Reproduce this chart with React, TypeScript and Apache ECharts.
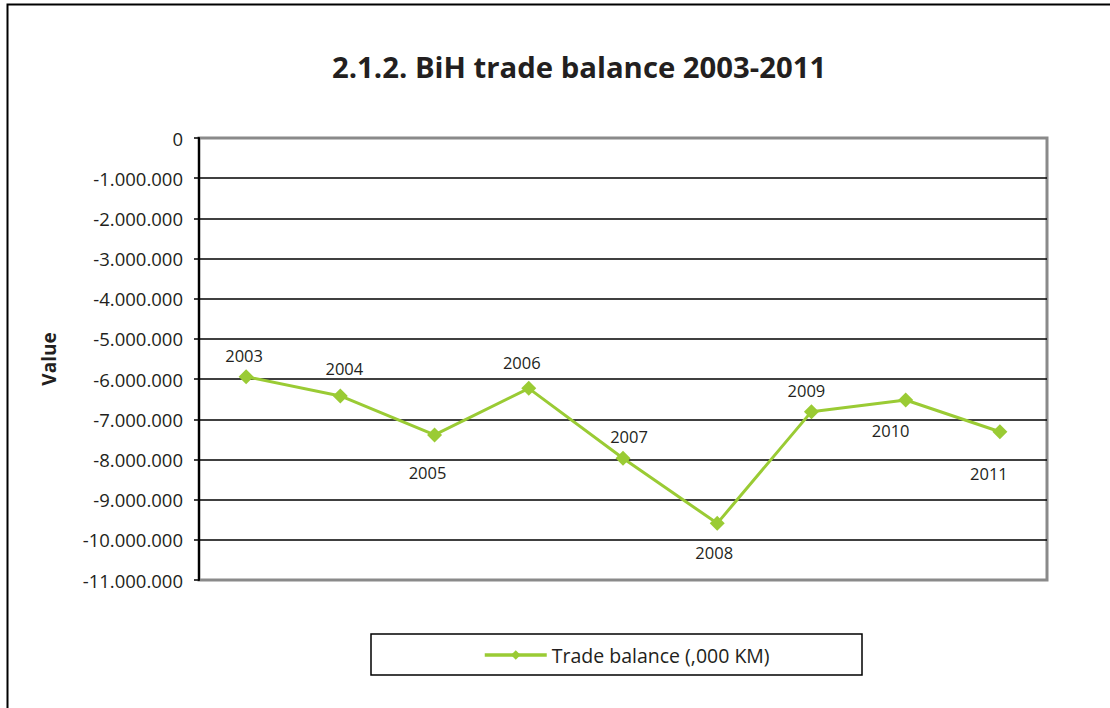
import React, { useEffect, useRef } from "react";
import * as echarts from "echarts";

const years = ["2003", "2004", "2005", "2006", "2007", "2008", "2009", "2010", "2011"];
const tradeBalance = [-5940000, -6420000, -7390000, -6230000, -7970000, -9590000, -6810000, -6520000, -7310000];
const labelOffsets: [number, number][] = [
  [-2, -21], [4, -27], [-7, 38], [-7, -26], [6, -22], [-3, 29], [-5, -21], [-15, 31], [-11, 42],
];
const titleText = "2.1.2. BiH trade balance 2003-2011";
const seriesName = "Trade balance (,000 KM)";
const yAxisName = "Value";

const FONT = "'Open Sans', 'Noto Sans', sans-serif";
const TXT = "#231f20";
const GREEN = "#9ACB34";

function fmt(v: number): string {
  const s = Math.abs(v).toString().replace(/\B(?=(\d{3})+(?!\d))/g, ".");
  return (v < 0 ? "-" : "") + s;
}

export default function App() {
  const ref = useRef<HTMLDivElement>(null);
  useEffect(() => {
    if (!ref.current) return;
    const chart = echarts.init(ref.current, undefined, { renderer: "svg" });
    chart.setOption({
      animation: false,
      backgroundColor: "#ffffff",
      textStyle: { fontFamily: FONT },
      title: {
        text: titleText,
        left: 327,
        top: 47,
        textStyle: { fontFamily: FONT, fontSize: 29.3, fontWeight: "bold", color: TXT },
      },
      graphic: [
        {
          type: "rect",
          shape: { x: 7.5, y: 4.5, width: 1300, height: 900 },
          style: { fill: "none", stroke: "#000", lineWidth: 2 },
          silent: true,
          z: -10,
        },
        {
          type: "rect",
          shape: { x: 371, y: 634, width: 491, height: 41 },
          style: { fill: "none", stroke: "#000", lineWidth: 1.5 },
          silent: true,
        },
      ],
      legend: {
        left: 478,
        top: 640,
        itemWidth: 62,
        itemHeight: 12,
        itemGap: 10,
        lineStyle: { width: 3.5, color: GREEN },
        textStyle: { fontFamily: FONT, fontSize: 19.5, color: TXT },
        data: [seriesName],
      },
      grid: {
        left: 199,
        top: 138,
        right: 63,
        bottom: 128,
        show: true,
        borderColor: "#8a8a8a",
        borderWidth: 3,
        backgroundColor: "#fff",
      },
      xAxis: {
        type: "category",
        data: years,
        boundaryGap: true,
        axisLine: { show: false },
        axisTick: { show: false },
        axisLabel: { show: false },
        splitLine: { show: false },
      },
      yAxis: {
        type: "value",
        min: -11000000,
        max: 0,
        interval: 1000000,
        name: yAxisName,
        nameLocation: "middle",
        nameGap: 141,
        nameTextStyle: { fontFamily: FONT, fontSize: 19, fontWeight: "bold", color: TXT },
        axisLine: { show: true, lineStyle: { color: "#000", width: 2 } },
        axisTick: { show: true, length: 5, inside: false, lineStyle: { color: "#000", width: 1.5 } },
        axisLabel: {
          fontFamily: FONT,
          fontSize: 18.5,
          color: TXT,
          margin: 16,
          formatter: (v: number) => fmt(v),
        },
        splitLine: {
          show: true,
          showMinLine: false,
          showMaxLine: false,
          lineStyle: { color: "#000", width: 1.5 },
        },
      },
      series: [
        {
          name: seriesName,
          type: "line",
          symbol: "diamond",
          symbolSize: 15,
          itemStyle: { color: GREEN },
          lineStyle: { color: GREEN, width: 3 },
          data: tradeBalance.map((v, i) => ({
            value: v,
            label: {
              show: true,
              position: "inside",
              offset: labelOffsets[i],
              formatter: "{b}",
              fontFamily: FONT,
              fontSize: 16.5,
              color: TXT,
            },
          })),
          z: 3,
        },
      ],
    });
    return () => chart.dispose();
  }, []);
  return (
    <div
      ref={ref}
      style={{ position: "fixed", left: 0, top: 0, width: 1110, height: 708, background: "#fff" }}
    />
  );
}
